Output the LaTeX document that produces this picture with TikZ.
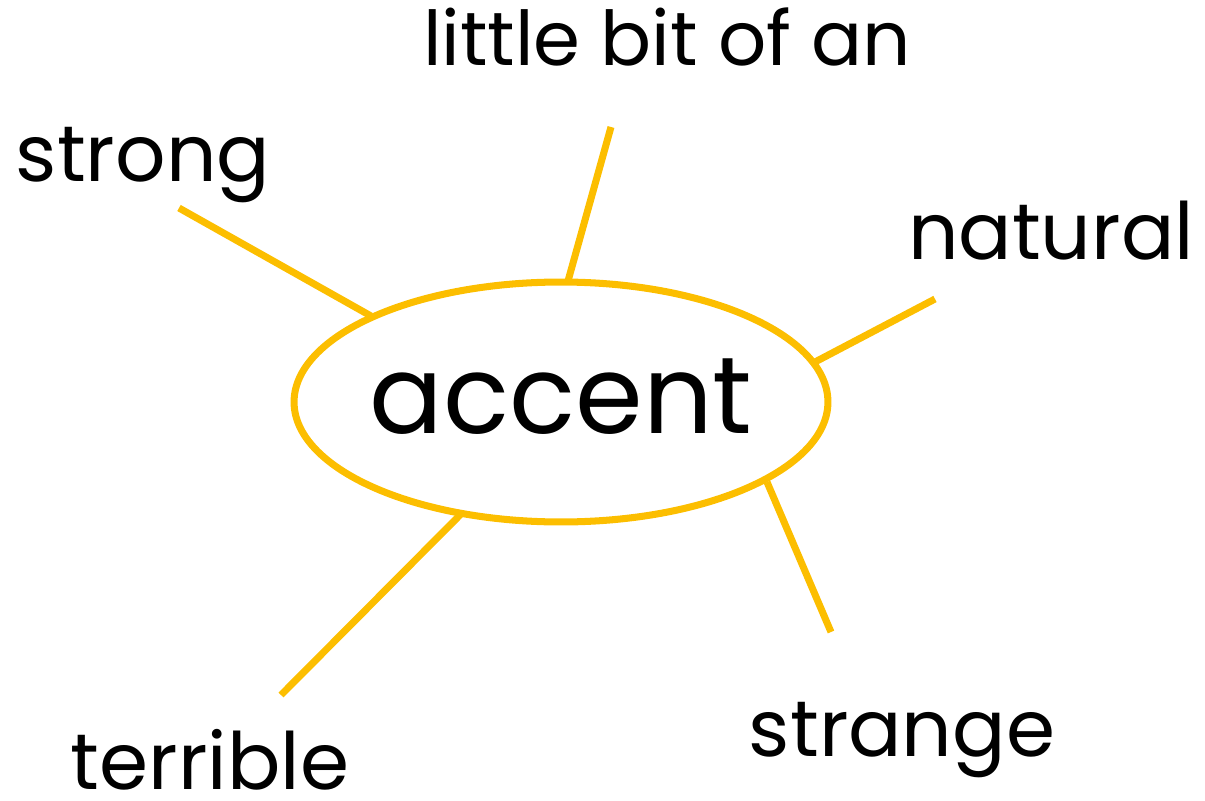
\documentclass[tikz,border=0pt]{standalone}
\usepackage{fontspec}
\setmainfont{Poppins}
\usetikzlibrary{shapes.geometric, positioning}
\definecolor{cyellow}{RGB}{252,190,0}

\begin{document}
\begin{tikzpicture}[x=0.02cm, y=-0.02cm,
    hub/.style={draw=cyellow, ellipse, line width=4pt, minimum width=10.68cm, minimum height=4.8cm, inner xsep=-0.4cm, inner ysep=0pt, font=\fontsize{62}{70}\selectfont},
    word/.style={inner sep=0pt, anchor=base, font=\fontsize{45}{52}\selectfont},
    spoke/.style={-, line width=4pt, cyellow}
]
\useasboundingbox (0,0) rectangle (1205,801);
\node[hub] (acc) at (561,402) {\raisebox{0.24cm}{accent}};
\node[word, font=\fontsize{43}{50}\selectfont] (w1) at (667,65) {little bit of an};
\node[word] (w2) at (143,181) {strong};
\node[word] (w3) at (1051,259) {natural};
\node[word] (w4) at (902,756) {strange};
\node[word] (w5) at (210,789) {terrible};
\coordinate (a1) at (611,127);
\coordinate (b1) at (568,281);
\coordinate (a2) at (179,208);
\coordinate (b2) at (371,316);
\coordinate (a3) at (935,299);
\coordinate (b3) at (815,362);
\coordinate (a4) at (831,632);
\coordinate (b4) at (767,482);
\coordinate (a5) at (281,695);
\coordinate (b5) at (462,513);
\draw[spoke] (a1) -- (b1);
\draw[spoke] (a2) -- (b2);
\draw[spoke] (a3) -- (b3);
\draw[spoke] (a4) -- (b4);
\draw[spoke] (a5) -- (b5);
\end{tikzpicture}
\end{document}
